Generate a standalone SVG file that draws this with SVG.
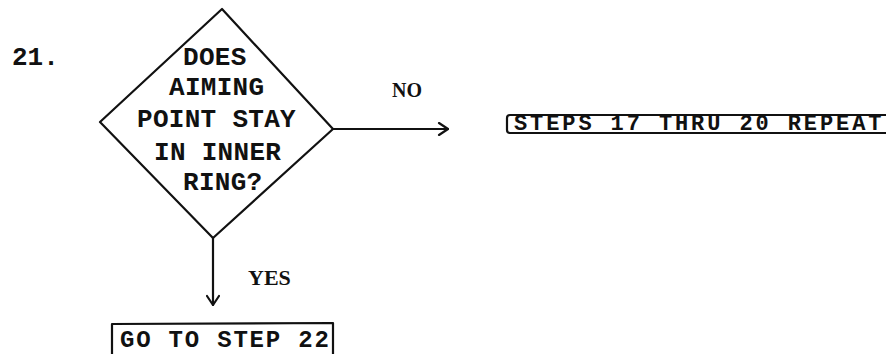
<svg xmlns="http://www.w3.org/2000/svg" width="886" height="354" viewBox="0 0 886 354">
<defs>
<style>
.ln{fill:none;stroke:#111;stroke-width:2.2;stroke-linecap:round;stroke-linejoin:round}
.mono{font-family:"Liberation Mono","DejaVu Sans Mono",monospace;font-weight:bold;fill:#111}
.lbl{font-family:"Liberation Serif","DejaVu Serif",serif;font-weight:bold;fill:#111}
</style>
<marker id="arr" viewBox="0 0 12 14" refX="11" refY="7" markerWidth="12" markerHeight="14" markerUnits="userSpaceOnUse" orient="auto">
<path d="M2,1 L11,7 L2,13" fill="none" stroke="#111" stroke-width="2.2" stroke-linecap="round" stroke-linejoin="round"/>
</marker>
</defs>
<rect width="886" height="354" fill="#fff"/>
<g id="step-number">
<text class="mono" x="12" y="65" font-size="26">21.</text>
</g>
<g id="decision">
<polygon class="ln" points="222,9 333,129 213,238 100,122"/>
<text class="mono" font-size="26" letter-spacing="0.3">
<tspan x="183" y="65">DOES</tspan>
<tspan x="169" y="95">AIMING</tspan>
<tspan x="137" y="127">POINT STAY</tspan>
<tspan x="154" y="160">IN INNER</tspan>
<tspan x="183" y="190">RING?</tspan>
</text>
</g>
<g id="repeat-box">
<path class="ln" d="M886,115 L510,115 Q507,115 507,118 L507,130 Q507,133 510,133 L886,133"/>
<text class="mono" x="514" y="130" font-size="22" letter-spacing="2.9">STEPS 17 THRU 20 REPEAT</text>
</g>
<g id="goto-box">
<path class="ln" d="M112,356 L112,324 L333,323 L333,356"/>
<text class="mono" x="120" y="347" font-size="24" letter-spacing="1.8">GO TO STEP 22</text>
</g>
<g id="connectors">
<line class="ln" x1="333" y1="129" x2="448" y2="129" marker-end="url(#arr)"/>
<text class="lbl" x="392" y="97" font-size="20">NO</text>
<line class="ln" x1="213" y1="238" x2="213" y2="305" marker-end="url(#arr)"/>
<text class="lbl" x="248" y="285" font-size="22">YES</text>
</g>
</svg>
